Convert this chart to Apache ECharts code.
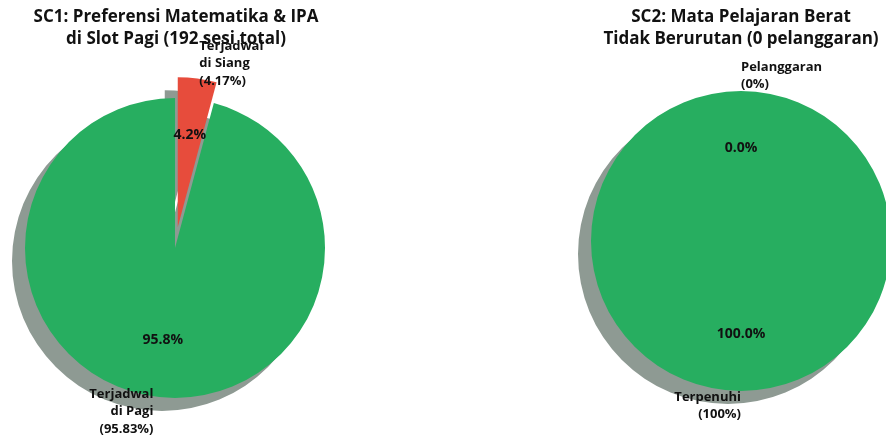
<!DOCTYPE html>
<html>
<head>
<meta charset="utf-8">
<script src="https://cdn.jsdelivr.net/npm/echarts@6/dist/echarts.min.js"></script>
<style>
html,body{margin:0;padding:0;background:#fff;}
#c{width:886px;height:441px;}
</style>
</head>
<body>
<div id="c"></div>
<script>
// ---- data ----
const sc1Title = 'SC1: Preferensi Matematika & IPA\ndi Slot Pagi (192 sesi total)';
const sc1Labels = ['Terjadwal\ndi Pagi\n(95.83%)', 'Terjadwal\ndi Siang\n(4.17%)'];
const sc1Values = [184, 8];
const sc1Colors = ['#27ae60', '#e74c3c'];
const sc1Explode = [false, true];

const sc2Title = 'SC2: Mata Pelajaran Berat\nTidak Berurutan (0 pelanggaran)';
const sc2Labels = ['Terpenuhi\n(100%)', 'Pelanggaran\n(0%)'];
const sc2Values = [100, 0];
const sc2Colors = ['#27ae60', '#e74c3c'];
const sc2Explode = [false, false];

const FONT = 'Open Sans';
const SHADOW = '#8e9a93';
const R = 150;
const OFF = 21;
const SH = [-13, 13];

function pieSet(center, labels, values, colors, explode) {
  const base = {
    type: 'pie',
    center: center,
    radius: R,
    startAngle: 89.99,
    clockwise: false,
    avoidLabelOverlap: false,
    selectedMode: 'multiple',
    selectedOffset: OFF,
    silent: true,
    emphasis: { disabled: true, scale: false },
    animation: false
  };
  const shadow = Object.assign({}, base, {
    center: [center[0] + SH[0], center[1] + SH[1]],
    z: 1,
    label: { show: false },
    labelLine: { show: false },
    itemStyle: { color: SHADOW, borderWidth: 0 },
    data: values.map((v, i) => ({ value: v, name: labels[i], selected: explode[i] }))
  });
  const main = Object.assign({}, base, {
    z: 2,
    label: {
      show: true,
      position: 'outside',
      formatter: p => labels[p.dataIndex],
      fontFamily: FONT, fontSize: 13, fontWeight: 'bold', color: '#111',
      lineHeight: 17.5, distanceToLabelLine: 0
    },
    labelLine: { show: false, length: R * 0.1, length2: 0 },
    itemStyle: { borderWidth: 0 },
    data: values.map((v, i) => ({ value: v, name: labels[i], selected: explode[i], itemStyle: { color: colors[i] } }))
  });
  const inner = Object.assign({}, base, {
    z: 3,
    radius: R * 1.2,
    label: {
      show: true,
      position: 'inside',
      formatter: p => p.percent.toFixed(1) + '%',
      fontFamily: FONT, fontSize: 14, fontWeight: 'bold', color: '#111'
    },
    labelLine: { show: false },
    itemStyle: { color: 'rgba(0,0,0,0)', borderWidth: 0 },
    data: values.map((v, i) => ({ value: v, name: labels[i], selected: explode[i] }))
  });
  return [shadow, main, inner];
}

const chart = echarts.init(document.getElementById('c'), null, { renderer: 'canvas' });
chart.setOption({
  backgroundColor: '#fff',
  animation: false,
  title: [
    { text: sc1Title, left: 176, top: 6, padding: 0, textAlign: 'center',
      textStyle: { fontFamily: FONT, fontSize: 17, fontWeight: 'bold', color: '#111', lineHeight: 22 } },
    { text: sc2Title, left: 741, top: 6, padding: 0, textAlign: 'center',
      textStyle: { fontFamily: FONT, fontSize: 17, fontWeight: 'bold', color: '#111', lineHeight: 22 } }
  ],
  series: [
    ...pieSet([175, 248], sc1Labels, sc1Values, sc1Colors, sc1Explode),
    ...pieSet([741, 241], sc2Labels, sc2Values, sc2Colors, sc2Explode)
  ]
});
</script>
</body>
</html>
